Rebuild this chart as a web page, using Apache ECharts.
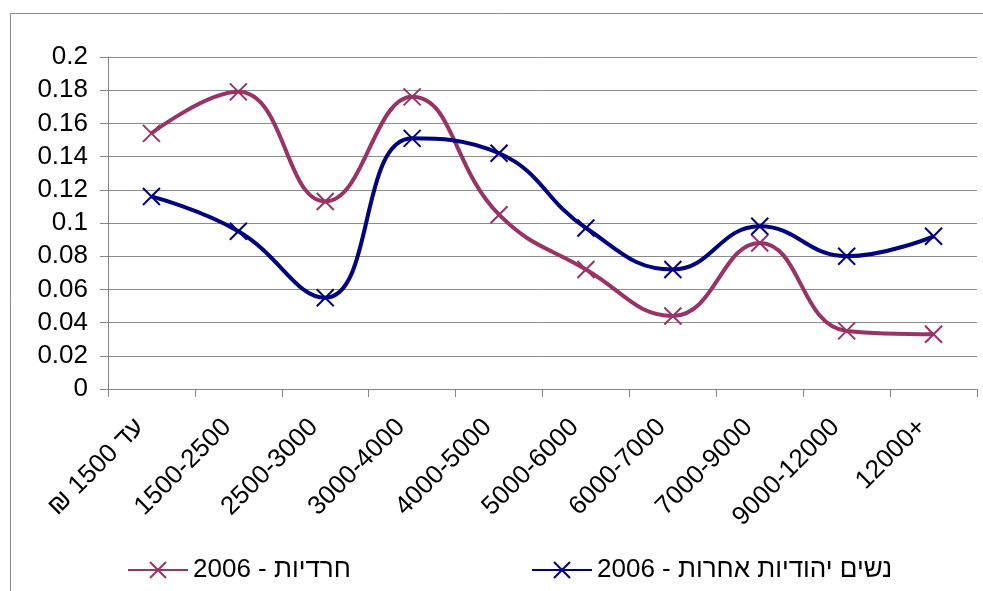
<!DOCTYPE html>
<html>
<head>
<meta charset="utf-8">
<script src="https://cdn.jsdelivr.net/npm/echarts@6/dist/echarts.min.js"></script>
<style>
html,body{margin:0;padding:0;background:#fff;}
#main{width:983px;height:591px;}
</style>
</head>
<body>
<div id="main"></div>
<script>
var categories=['₪ 1500 עד','1500-2500','2500-3000','3000-4000','4000-5000','5000-6000','6000-7000','7000-9000','9000-12000','12000+'];
var haredi=[0.154,0.179,0.113,0.176,0.105,0.072,0.044,0.088,0.035,0.033];
var others=[0.116,0.095,0.055,0.151,0.142,0.097,0.072,0.098,0.080,0.092];
var name1='2006 - חרדיות';
var name2='2006 - נשים יהודיות אחרות';

var fontFam='"Liberation Sans", Arial, sans-serif';
var xMark='path://M0,0L10,10M10,0L0,10';

var chart=echarts.init(document.getElementById('main'));
var option={
	animation:false,
	backgroundColor:'#fff',
	textStyle:{fontFamily:fontFam},
	graphic:[{
		type:'rect',
		shape:{x:10.5,y:13.5,width:1100,height:1100},
		style:{fill:null,stroke:'#8a8a8a',lineWidth:1}
	}],
	grid:{left:108,right:6,top:57,bottom:202},
	legend:[{
		left:127,top:557,padding:0,
		itemWidth:60,itemHeight:20,itemGap:6,
		textStyle:{fontSize:26,color:'#000',fontFamily:fontFam},
		data:[name1]
	},{
		left:531,top:557,padding:0,
		itemWidth:60,itemHeight:20,itemGap:6,
		textStyle:{fontSize:26,color:'#000',fontFamily:fontFam},
		data:[name2]
	}],
	xAxis:{
		type:'category',
		data:categories,
		boundaryGap:true,
		axisLine:{lineStyle:{color:'#868686',width:1}},
		axisTick:{show:true,length:8,lineStyle:{color:'#868686'}},
		axisLabel:{rotate:45,fontSize:26,color:'#000',margin:23,padding:[0,16,0,0],fontFamily:fontFam,interval:0}
	},
	yAxis:{
		type:'value',
		min:0,max:0.2,interval:0.02,
		axisLine:{show:true,lineStyle:{color:'#868686',width:1}},
		axisTick:{show:true,length:8,lineStyle:{color:'#868686'}},
		axisLabel:{fontSize:26,color:'#000',margin:20,fontFamily:fontFam},
		splitLine:{show:true,lineStyle:{color:'#8c8c8c',width:1}}
	},
	series:[{
		name:name1,
		type:'line',
		data:haredi,
		smooth:0.45,
		symbol:xMark,
		symbolSize:17,
		lineStyle:{color:'#993366',width:4},
		itemStyle:{color:'#993366',borderColor:'#993366',borderWidth:2}
	},{
		name:name2,
		type:'line',
		data:others,
		smooth:0.45,
		symbol:xMark,
		symbolSize:17,
		lineStyle:{color:'#000080',width:4},
		itemStyle:{color:'#000080',borderColor:'#000080',borderWidth:2}
	}]
};
chart.setOption(option);
window.addEventListener('resize',function(){
	chart.resize();
});
</script>
</body>
</html>
